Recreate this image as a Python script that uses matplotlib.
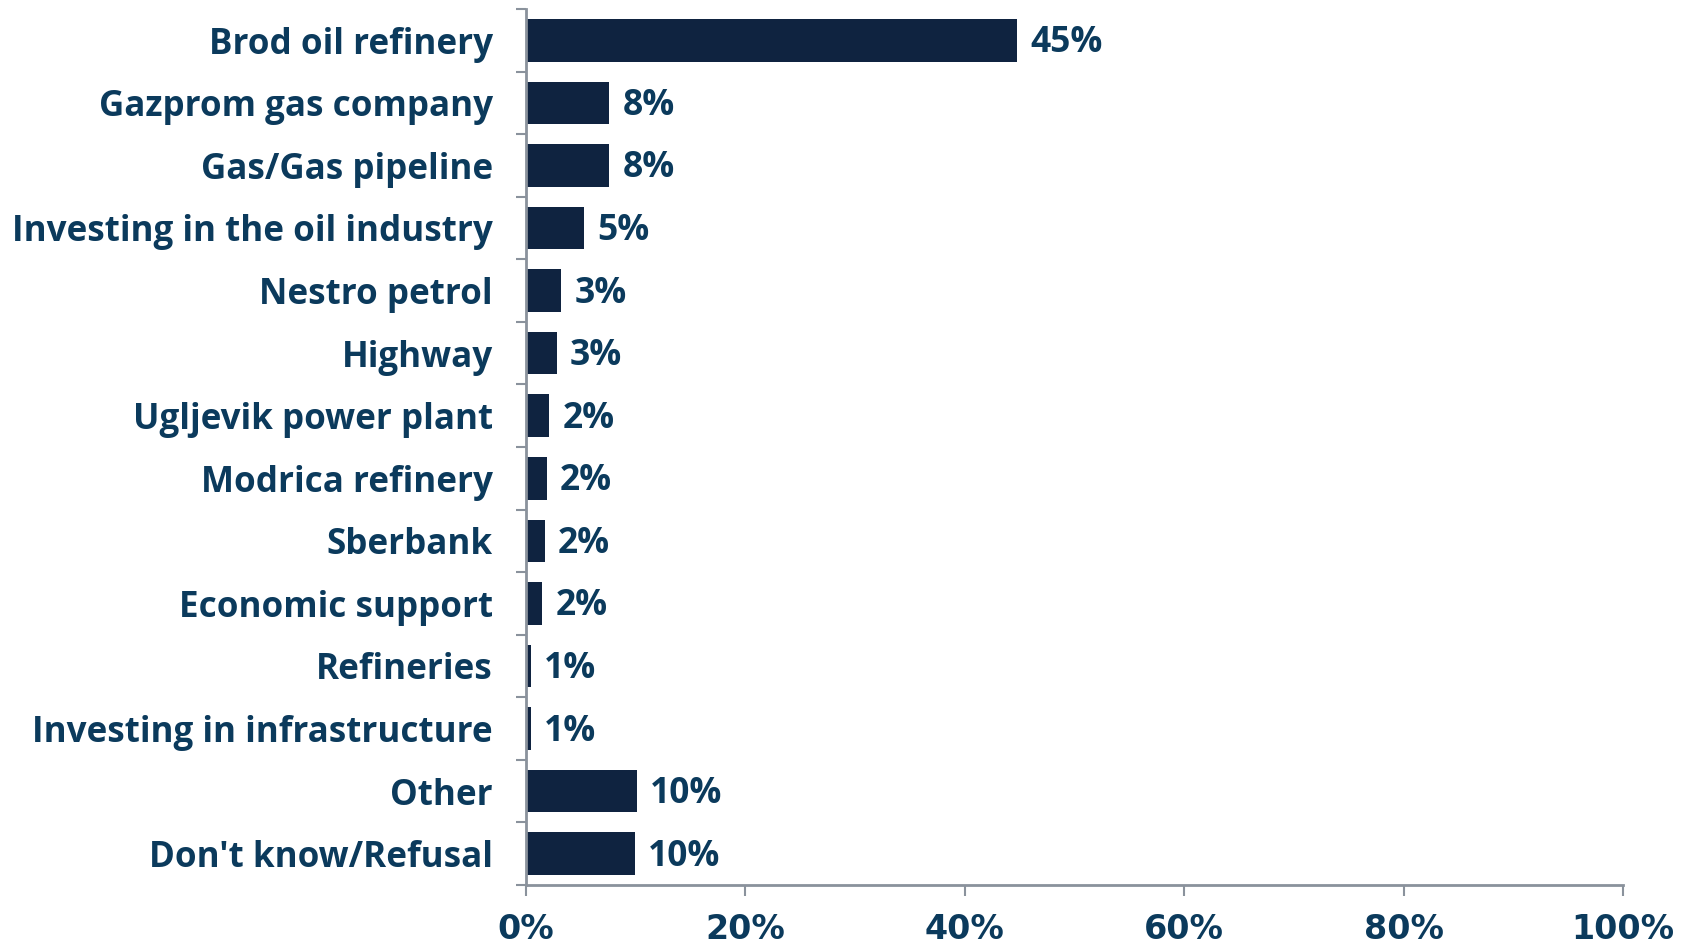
import matplotlib
matplotlib.use("Agg")
import matplotlib.pyplot as plt
import numpy as np

categories = ["Brod oil refinery", "Gazprom gas company", "Gas/Gas pipeline",
              "Investing in the oil industry", "Nestro petrol", "Highway",
              "Ugljevik power plant", "Modrica refinery", "Sberbank",
              "Economic support", "Refineries", "Investing in infrastructure",
              "Other", "Don't know/Refusal"]
values = [44.8, 7.6, 7.6, 5.3, 3.2, 2.8, 2.1, 1.9, 1.7, 1.5, 0.45, 0.45, 10.1, 9.9]
value_labels = ["45%", "8%", "8%", "5%", "3%", "3%", "2%", "2%", "2%", "2%",
                "1%", "1%", "10%", "10%"]
xticks = [0, 20, 40, 60, 80, 100]
xtick_labels = ["0%", "20%", "40%", "60%", "80%", "100%"]

bar_color = "#0F2340"
text_color = "#0B3A5C"
axis_color = "#8A929C"

fig = plt.figure(figsize=(16.88, 9.46), dpi=100)
ax = fig.add_axes([0.3116, 0.0645, 0.6499, 0.926])

y = np.arange(len(categories))
ax.barh(y, values, height=0.68, color=bar_color)
ax.set_ylim(len(categories) - 0.5, -0.5)
ax.set_xlim(0, 100)

for yi, v, lab in zip(y, values, value_labels):
    ax.annotate(lab, (v, yi), xytext=(9.5, -2.2), textcoords="offset points",
                va="center", ha="left", fontsize=25.5, fontweight="bold",
                color=text_color, family="Open Sans")

ax.set_yticks(y)
ax.set_yticklabels(categories, fontsize=25.2, fontweight="bold",
                   color=text_color, family="Open Sans")
ax.tick_params(axis="y", which="major", length=0, pad=24)
ax.set_yticks(np.arange(-0.5, len(categories), 1), minor=True)
ax.tick_params(axis="y", which="minor", length=7, width=1.5, color=axis_color)

ax.set_xticks(xticks)
ax.set_xticklabels(xtick_labels, fontsize=24, fontweight="bold",
                   color=text_color, family="Liberation Sans Narrow")
ax.tick_params(axis="x", which="major", length=8, width=1.5, color=axis_color, pad=12)

for s in ["top", "right"]:
    ax.spines[s].set_visible(False)
for s in ["left", "bottom"]:
    ax.spines[s].set_color(axis_color)
    ax.spines[s].set_linewidth(2)

fig.savefig("out.png", dpi=100)
